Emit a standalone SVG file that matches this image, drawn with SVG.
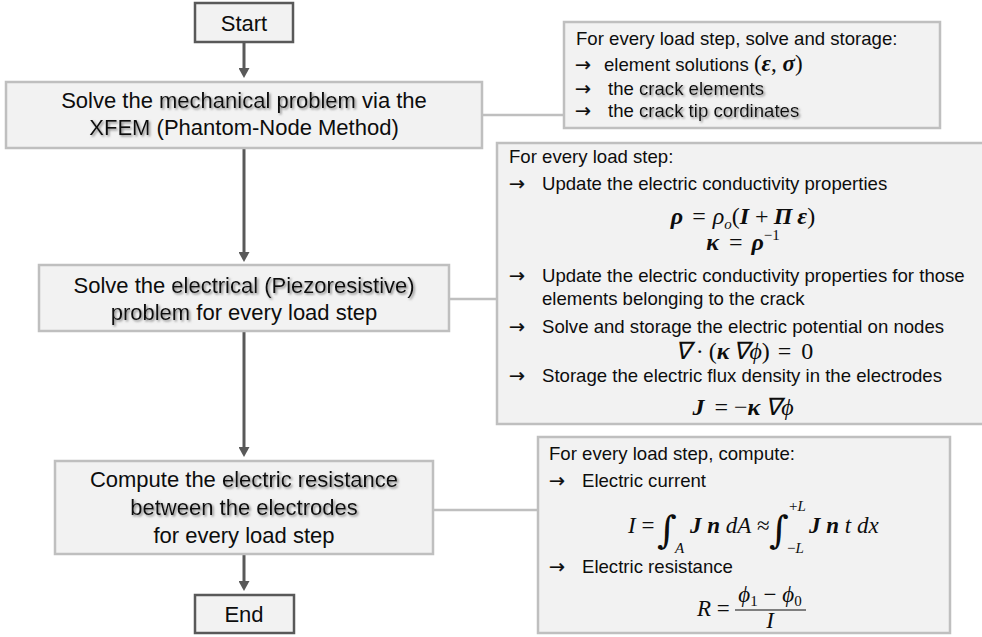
<svg xmlns="http://www.w3.org/2000/svg" width="982" height="637" viewBox="0 0 982 637">
<defs>
<style>
.term{fill:#f2f2f2;stroke:#595959;stroke-width:2.5}
.box{fill:#f2f2f2;stroke:#bfbfbf;stroke-width:2.5}
.flow{stroke:#595959;stroke-width:3;fill:none;marker-end:url(#ah)}
.link{stroke:#bfbfbf;stroke-width:2.5;fill:none}
text{fill:#0d0d0d;font-kerning:none}
.lt{font-family:"Liberation Sans",Arial,sans-serif;font-size:22px}
.mid{text-anchor:middle}
.rt{font-family:"Liberation Sans",Arial,sans-serif;font-size:18.6px}
.ar{font-family:"DejaVu Sans",sans-serif;font-size:19px;stroke:#0d0d0d;stroke-width:0.3}
.m{font-family:"Liberation Serif","Times New Roman",serif;font-style:italic;font-size:23px}
.eq{font-size:24px;text-anchor:middle}
.c{text-anchor:middle}
.b{font-weight:bold}
.up{font-style:normal}
.s{font-size:15px}
.int{font-family:"DejaVu Serif",serif;font-size:38px;font-style:italic}
.em{filter:url(#ds)}
</style>
<marker id="ah" viewBox="0 0 10 11" markerWidth="10" markerHeight="11" refX="3" refY="5.5" orient="auto" markerUnits="userSpaceOnUse"><path d="M0,0 L10,5.5 L0,11 z" fill="#595959"/></marker>
<filter id="ds" x="-5%" y="-30%" width="115%" height="170%"><feDropShadow dx="1.5" dy="1.5" stdDeviation="0.9" flood-color="#7a7a7a" flood-opacity="0.9"/></filter>
</defs>
<rect width="982" height="637" fill="#ffffff"/>

<g id="connectors">
<line class="flow" x1="244" y1="42" x2="244" y2="71"/>
<line class="flow" x1="244" y1="148" x2="244" y2="255"/>
<line class="flow" x1="244" y1="331" x2="244" y2="450"/>
<line class="flow" x1="244" y1="554" x2="244" y2="584"/>
<line class="link" x1="482" y1="115" x2="564" y2="115"/>
<line class="link" x1="449" y1="299" x2="497" y2="299"/>
<line class="link" x1="433" y1="510" x2="538" y2="510"/>
</g>

<g id="start">
<rect class="term" x="195" y="3" width="98" height="39"/>
<text class="lt mid" x="244" y="31">Start</text>
</g>

<g id="solve-mechanical">
<rect class="box" x="6" y="82" width="476" height="66"/>
<text class="lt" x="61.2" y="108">Solve the</text>
<text class="lt em" x="159" y="108">mechanical problem</text>
<text class="lt" x="362" y="108">via the</text>
<text class="lt em" x="89.3" y="135">XFEM</text>
<text class="lt" x="156.6" y="135">(Phantom-Node Method)</text>
</g>

<g id="solve-electrical">
<rect class="box" x="39" y="265" width="410" height="66"/>
<text class="lt" x="73.5" y="293">Solve the</text>
<text class="lt em" x="171.3" y="293">electrical (Piezoresistive)</text>
<text class="lt em" x="110.7" y="320">problem</text>
<text class="lt" x="196.3" y="320">for every load step</text>
</g>

<g id="compute-resistance">
<rect class="box" x="55" y="461" width="378" height="93"/>
<text class="lt" x="89.9" y="487">Compute the</text>
<text class="lt em" x="222" y="487">electric resistance</text>
<text class="lt mid em" x="244" y="515">between the electrodes</text>
<text class="lt mid" x="244" y="543">for every load step</text>
</g>

<g id="end">
<rect class="term" x="195" y="595" width="99" height="38"/>
<text class="lt mid" x="244" y="622">End</text>
</g>

<g id="note-mechanical">
<rect class="box" x="564" y="22" width="376" height="106"/>
<text class="rt" x="576" y="45">For every load step, solve and storage:</text>
<text class="ar" x="575" y="71">→</text>
<text class="rt" x="604" y="71">element solutions <tspan class="m up" font-size="25">(</tspan><tspan class="m b" font-size="24">ε</tspan><tspan class="m up" font-size="24">, </tspan><tspan class="m b" font-size="24">σ</tspan><tspan class="m up" font-size="25">)</tspan></text>
<text class="ar" x="575" y="95">→</text>
<text class="rt" x="608" y="95">the</text>
<text class="rt em" x="639" y="95">crack elements</text>
<text class="ar" x="575" y="117">→</text>
<text class="rt" x="608" y="117">the</text>
<text class="rt em" x="639" y="117">crack tip cordinates</text>
</g>

<g id="note-electrical">
<rect class="box" x="497" y="143" width="495" height="281"/>
<text class="rt" x="509" y="163">For every load step:</text>
<text class="ar" x="509" y="190">→</text>
<text class="rt" x="542" y="190">Update the electric conductivity properties</text>
<text class="m eq" x="743" y="224"><tspan class="b">ρ</tspan><tspan class="up" dx="9">=</tspan><tspan dx="7">ρ</tspan><tspan class="s" dy="5">o</tspan><tspan class="up" dy="-5">(</tspan><tspan class="b">I</tspan><tspan class="up" dx="6">+</tspan><tspan class="b" dx="5">Π</tspan><tspan class="b" dx="5">ε</tspan><tspan class="up">)</tspan></text>
<text class="m eq" x="743" y="250"><tspan class="b">κ</tspan><tspan class="up" dx="10">=</tspan><tspan class="b" dx="9">ρ</tspan><tspan class="s up" dy="-10">−1</tspan></text>
<text class="ar" x="509" y="282">→</text>
<text class="rt" x="542" y="282">Update the electric conductivity properties for those</text>
<text class="rt" x="542" y="305">elements belonging to the crack</text>
<text class="ar" x="509" y="333">→</text>
<text class="rt" x="542" y="333">Solve and storage the electric potential on nodes</text>
<text class="m eq" x="744" y="359">∇<tspan class="up" dx="5">·</tspan><tspan class="up" dx="5">(</tspan><tspan class="b">κ</tspan><tspan dx="4">∇ϕ</tspan><tspan class="up">)</tspan><tspan class="up" dx="8">=</tspan><tspan class="up" dx="10">0</tspan></text>
<text class="ar" x="509" y="382">→</text>
<text class="rt" x="542" y="382">Storage the electric flux density in the electrodes</text>
<text class="m eq" x="743" y="415"><tspan class="b">J</tspan><tspan class="up" dx="10">=</tspan><tspan class="up" dx="6">−</tspan><tspan class="b">κ</tspan><tspan dx="5">∇ϕ</tspan></text>
</g>

<g id="note-resistance">
<rect class="box" x="538" y="437" width="412" height="196"/>
<text class="rt" x="549" y="460">For every load step, compute:</text>
<text class="ar" x="549" y="487">→</text>
<text class="rt" x="582" y="487">Electric current</text>
<text class="m" x="628" y="533">I<tspan class="up"> =</tspan></text>
<text class="int" x="657" y="543">∫</text>
<text class="m s" x="675" y="553">A</text>
<text class="m" x="690" y="533"><tspan class="b">J n</tspan> dA<tspan class="up"> ≈</tspan></text>
<text class="int" x="769" y="543">∫</text>
<text class="m s" x="789" y="511"><tspan class="up">+</tspan>L</text>
<text class="m s" x="787" y="553"><tspan class="up">−</tspan>L</text>
<text class="m" x="809" y="533"><tspan class="b">J n</tspan> t dx</text>
<text class="ar" x="549" y="573">→</text>
<text class="rt" x="582" y="573">Electric resistance</text>
<text class="m" x="697" y="616">R<tspan class="up"> =</tspan></text>
<text class="m c" x="770" y="602">ϕ<tspan class="s up" dy="4">1</tspan><tspan class="up" dy="-4"> − </tspan>ϕ<tspan class="s up" dy="4">0</tspan></text>
<line x1="735" y1="610" x2="806" y2="610" stroke="#0d0d0d" stroke-width="1.2"/>
<text class="m c" x="770" y="628">I</text>
</g>
</svg>
